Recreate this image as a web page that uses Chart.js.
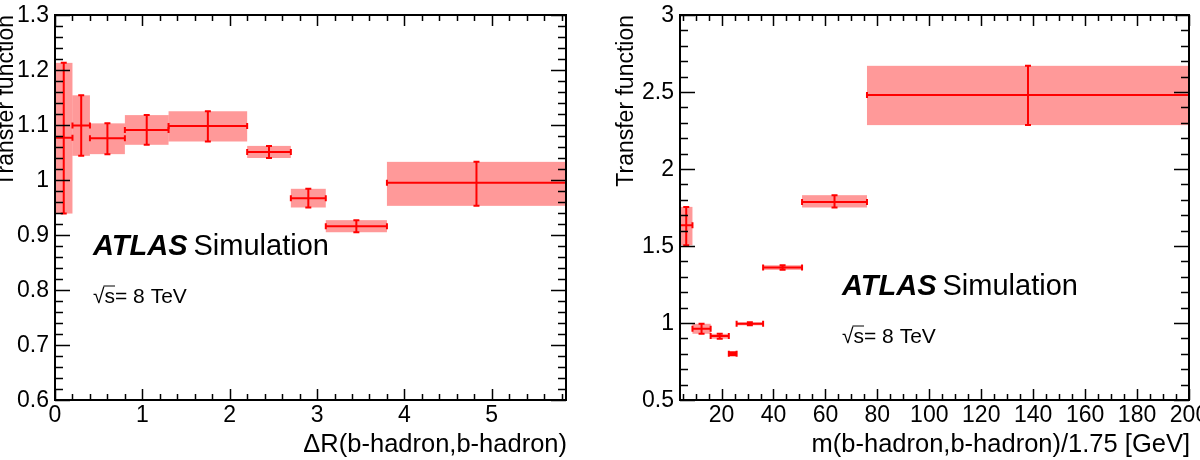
<!DOCTYPE html>
<html>
<head>
<meta charset="utf-8">
<script src="https://cdn.jsdelivr.net/npm/chart.js@4/dist/chart.umd.min.js"></script>
<style>
html,body{margin:0;padding:0;background:#fff;overflow:hidden;}
#wrap{position:relative;width:1200px;height:460px;}
.box{position:absolute;top:0;width:600px;height:460px;}
canvas{display:block;}
</style>
</head>
<body>
<div id="wrap">
  <div class="box" style="left:0"><canvas id="cDR" width="600" height="460"></canvas></div>
  <div class="box" style="left:600px"><canvas id="cM" width="600" height="460"></canvas></div>
</div>
<script>
// ---------- Left panel: Delta R ----------
const drBinLow  = [0.0, 0.2, 0.4, 0.8, 1.3, 2.2, 2.7, 3.1, 3.8];
const drBinHigh = [0.2, 0.4, 0.8, 1.3, 2.2, 2.7, 3.1, 3.8, 5.85];
const drValue   = [1.077, 1.099, 1.076, 1.091, 1.098, 1.051, 0.967, 0.916, 0.995];
const drErrLow  = [0.939, 1.044, 1.047, 1.064, 1.070, 1.040, 0.950, 0.905, 0.953];
const drErrHigh = [1.213, 1.154, 1.103, 1.118, 1.125, 1.062, 0.984, 0.927, 1.033];
const drXTicks = [0, 1, 2, 3, 4, 5];
const drXTickLabels = ['0', '1', '2', '3', '4', '5'];
const drYTicks = [0.6, 0.7, 0.8, 0.9, 1.0, 1.1, 1.2, 1.3];
const drYTickLabels = ['0.6', '0.7', '0.8', '0.9', '1', '1.1', '1.2', '1.3'];

// ---------- Right panel: mass ----------
const mBinLow  = [4, 8.8, 15.8, 22.8, 25.8, 36, 51, 76];
const mBinHigh = [8.8, 15.8, 22.8, 25.8, 36, 51, 76, 200];
const mValue   = [1.635, 0.963, 0.915, 0.800, 0.995, 1.360, 1.786, 2.480];
const mErrLow  = [1.505, 0.930, 0.898, 0.790, 0.985, 1.345, 1.750, 2.285];
const mErrHigh = [1.754, 0.995, 0.930, 0.810, 1.005, 1.375, 1.830, 2.670];
const mXTicks = [20, 40, 60, 80, 100, 120, 140, 160, 180, 200];
const mXTickLabels = ['20', '40', '60', '80', '100', '120', '140', '160', '180', '200'];
const mYTicks = [0.5, 1.0, 1.5, 2.0, 2.5, 3.0];
const mYTickLabels = ['0.5', '1', '1.5', '2', '2.5', '3'];

const FONT = '"Liberation Sans", Arial, Helvetica, sans-serif';

function range(a, b, step) {
  const out = [];
  for (let i = 0; a + i * step <= b + 1e-9; i++) out.push(+(a + i * step).toFixed(6));
  return out;
}

function makePlugin(cfg) {
  return {
    id: 'rootStyle',
    beforeDatasetsDraw(chart) {
      const {ctx, chartArea: a, scales: {x, y}} = chart;
      ctx.save();
      ctx.beginPath();
      ctx.rect(a.left, a.top, a.right - a.left, a.bottom - a.top);
      ctx.clip();
      // uncertainty bands
      ctx.fillStyle = 'rgba(255,0,0,0.40)';
      cfg.lo.forEach((lo, i) => {
        const x0 = x.getPixelForValue(lo), x1 = x.getPixelForValue(cfg.hi[i]);
        const y0 = y.getPixelForValue(cfg.eHi[i]), y1 = y.getPixelForValue(cfg.eLo[i]);
        ctx.fillRect(x0, y0, x1 - x0, y1 - y0);
      });
      // error bars
      ctx.strokeStyle = '#ff0000';
      ctx.lineWidth = 2;
      const cap = 3;
      cfg.lo.forEach((lo, i) => {
        const x0 = x.getPixelForValue(lo), x1 = x.getPixelForValue(cfg.hi[i]);
        const xc = x.getPixelForValue((lo + cfg.hi[i]) / 2);
        const yv = y.getPixelForValue(cfg.val[i]);
        const yh = y.getPixelForValue(cfg.eHi[i]), yl = y.getPixelForValue(cfg.eLo[i]);
        ctx.beginPath();
        ctx.moveTo(x0, yv); ctx.lineTo(x1, yv);
        ctx.moveTo(x0, yv - cap); ctx.lineTo(x0, yv + cap);
        ctx.moveTo(x1, yv - cap); ctx.lineTo(x1, yv + cap);
        ctx.moveTo(xc, yh); ctx.lineTo(xc, yl);
        ctx.moveTo(xc - cap, yh); ctx.lineTo(xc + cap, yh);
        ctx.moveTo(xc - cap, yl); ctx.lineTo(xc + cap, yl);
        ctx.stroke();
      });
      ctx.restore();
    },
    afterDraw(chart) {
      const {ctx, chartArea: a, scales: {x, y}} = chart;
      ctx.save();
      ctx.strokeStyle = '#000';
      ctx.fillStyle = '#000';
      // ticks
      ctx.lineWidth = 1.5;
      ctx.beginPath();
      const tick = (v, len, isX) => {
        if (isX) {
          const p = Math.round(x.getPixelForValue(v)) + 0.5;
          ctx.moveTo(p, a.bottom); ctx.lineTo(p, a.bottom - len);
          ctx.moveTo(p, a.top); ctx.lineTo(p, a.top + len);
        } else {
          const p = Math.round(y.getPixelForValue(v)) + 0.5;
          ctx.moveTo(a.left, p); ctx.lineTo(a.left + len, p);
          ctx.moveTo(a.right, p); ctx.lineTo(a.right - len, p);
        }
      };
      cfg.xMinor.forEach(v => tick(v, 6, true));
      cfg.xTicks.forEach(v => tick(v, 11, true));
      cfg.yMinor.forEach(v => tick(v, 8, false));
      cfg.yTicks.forEach(v => tick(v, 15, false));
      ctx.stroke();
      // frame
      ctx.lineWidth = 2;
      ctx.strokeRect(a.left, a.top, a.right - a.left, a.bottom - a.top);
      // tick labels
      ctx.font = '23px ' + FONT;
      ctx.textAlign = 'center';
      ctx.textBaseline = 'alphabetic';
      cfg.xTicks.forEach((v, i) => ctx.fillText(cfg.xLabels[i], x.getPixelForValue(v), 422));
      ctx.textAlign = 'right';
      ctx.textBaseline = 'middle';
      cfg.yTicks.forEach((v, i) => ctx.fillText(cfg.yLabels[i], a.left - 6, y.getPixelForValue(v) + 1));
      // x title
      ctx.font = '25.5px ' + FONT;
      ctx.textAlign = 'right';
      ctx.textBaseline = 'alphabetic';
      ctx.fillText(cfg.xTitle, a.right + 1, 452);
      // y title
      ctx.save();
      ctx.translate(cfg.yTitleX, a.top);
      ctx.rotate(-Math.PI / 2);
      ctx.font = '23px ' + FONT;
      ctx.textAlign = 'right';
      ctx.fillText('Transfer function', 0, 0);
      ctx.restore();
      // ATLAS label
      ctx.textAlign = 'left';
      ctx.font = 'italic bold 29px ' + FONT;
      ctx.fillText('ATLAS', cfg.labX, cfg.labY);
      const wA = ctx.measureText('ATLAS').width;
      ctx.font = '29px ' + FONT;
      ctx.fillText('Simulation', cfg.labX + wA + 6, cfg.labY);
      // sqrt(s) = 8 TeV
      ctx.font = '21px ' + FONT;
      const sy = cfg.labY + 48;
      ctx.fillText('\u221As= 8 TeV', cfg.labX, sy);
      const wR = ctx.measureText('\u221A').width;
      const wS = ctx.measureText('s').width;
      ctx.lineWidth = 1;
      ctx.beginPath();
      ctx.moveTo(cfg.labX + wR - 1, sy - 17);
      ctx.lineTo(cfg.labX + wR + wS, sy - 17);
      ctx.stroke();
      ctx.restore();
    }
  };
}

function makeChart(id, d) {
  const pts = d.lo.map((lo, i) => ({x: (lo + d.hi[i]) / 2, y: d.val[i]}));
  return new Chart(document.getElementById(id), {
    type: 'scatter',
    data: {datasets: [{data: pts, pointRadius: 0, showLine: false}]},
    options: {
      responsive: false,
      animation: false,
      devicePixelRatio: 1,
      layout: {padding: d.pad},
      plugins: {legend: {display: false}, tooltip: {enabled: false}},
      scales: {
        x: {type: 'linear', min: d.xMin, max: d.xMax, display: false},
        y: {type: 'linear', min: d.yMin, max: d.yMax, display: false}
      }
    },
    plugins: [makePlugin(d)]
  });
}

makeChart('cDR', {
  lo: drBinLow, hi: drBinHigh, val: drValue, eLo: drErrLow, eHi: drErrHigh,
  xMin: 0, xMax: 5.85, yMin: 0.6, yMax: 1.3,
  pad: {left: 55, right: 34, top: 15, bottom: 60},
  xTicks: drXTicks, xLabels: drXTickLabels, xMinor: range(0, 5.8, 0.2),
  yTicks: drYTicks, yLabels: drYTickLabels, yMinor: range(0.6, 1.3, 0.02),
  xTitle: '\u0394R(b-hadron,b-hadron)', yTitleX: 13,
  labX: 93, labY: 255
});

makeChart('cM', {
  lo: mBinLow, hi: mBinHigh, val: mValue, eLo: mErrLow, eHi: mErrHigh,
  xMin: 4, xMax: 200, yMin: 0.5, yMax: 3.0,
  pad: {left: 80, right: 11, top: 15, bottom: 60},
  xTicks: mXTicks, xLabels: mXTickLabels, xMinor: range(5, 200, 5),
  yTicks: mYTicks, yLabels: mYTickLabels, yMinor: range(0.5, 3.0, 0.1),
  xTitle: 'm(b-hadron,b-hadron)/1.75 [GeV]', yTitleX: 33,
  labX: 242, labY: 295
});
</script>
</body>
</html>
